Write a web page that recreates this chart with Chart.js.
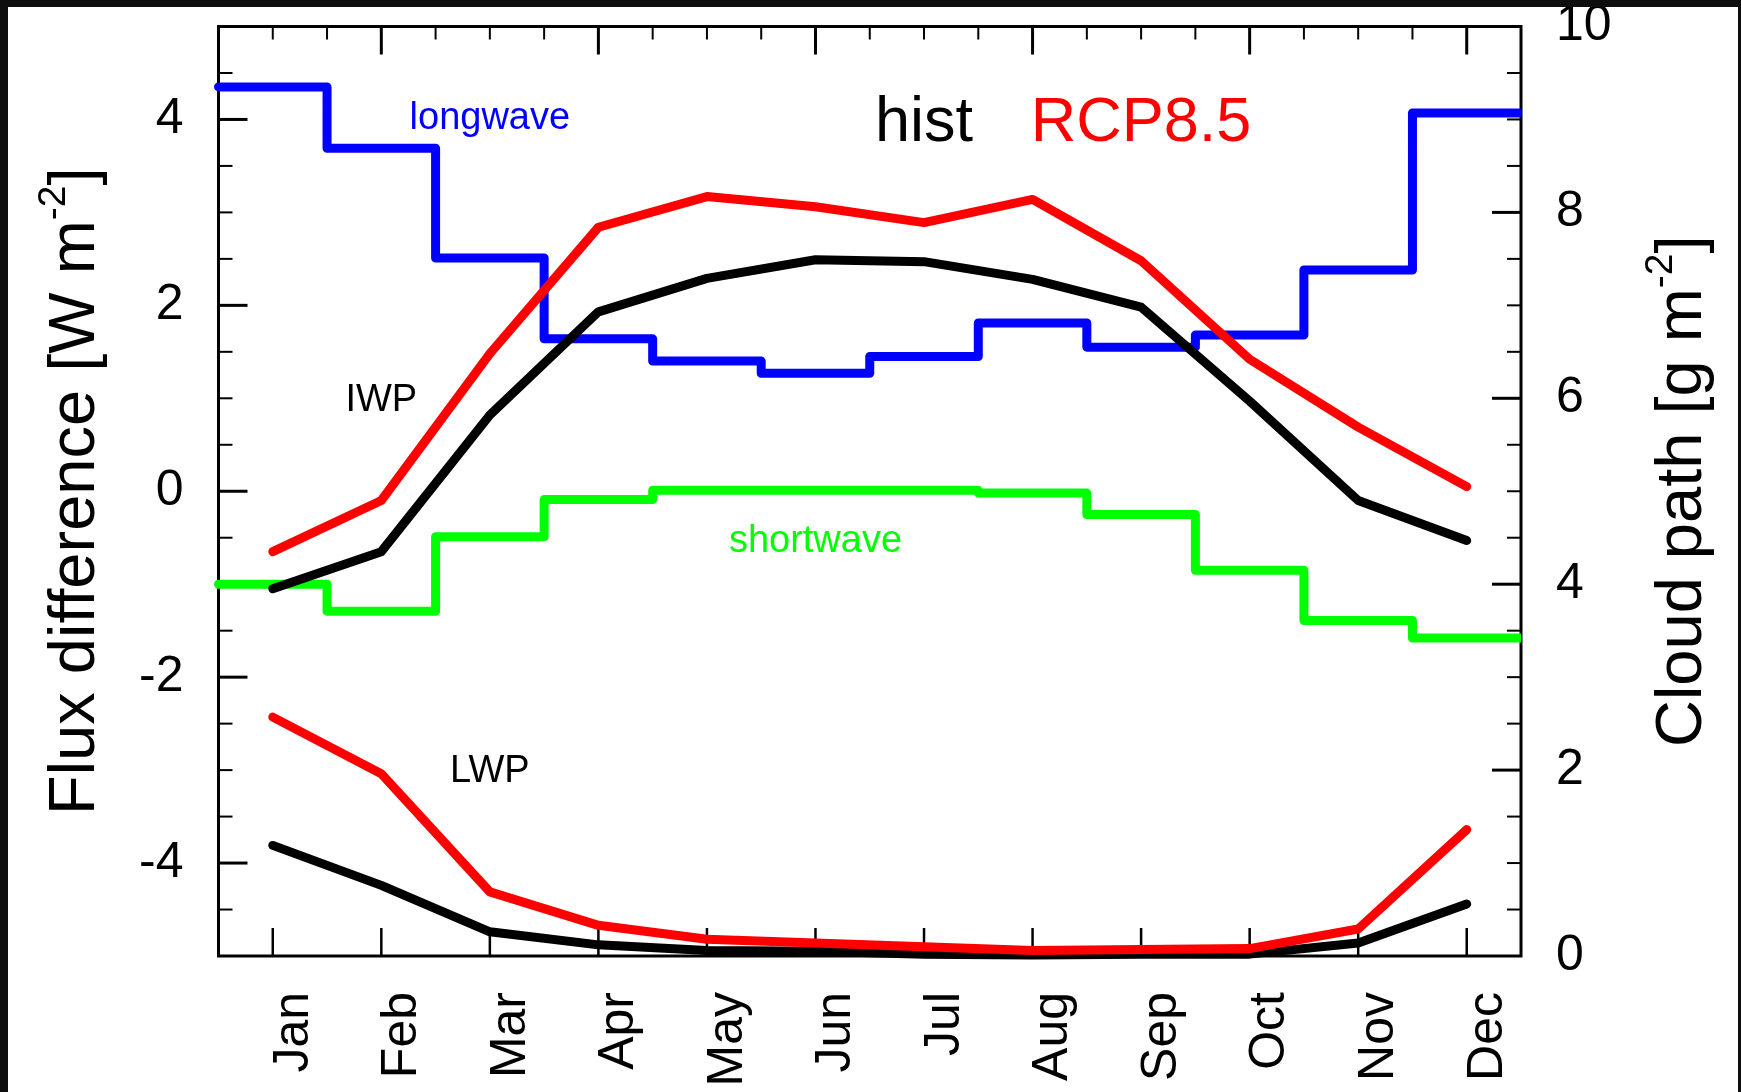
<!DOCTYPE html>
<html>
<head>
<meta charset="utf-8">
<title>Cloud path and flux difference</title>
<script src="https://cdn.jsdelivr.net/npm/chart.js@4.4.0/dist/chart.umd.min.js"></script>
<style>
    html, body { margin: 0; padding: 0; background: #0e0e0e; }
    #frame { position: absolute; left: 8px; top: 7px; width: 1730px; height: 1085px; background: #fff; }
    canvas { display: block; }
</style>
</head>
<body>
<div id="frame"><canvas id="cloudChart" width="1730" height="1085"></canvas></div>
<script>
// Monthly cycle of cloud ice/liquid water path and cloud flux difference
const months = ['Jan', 'Feb', 'Mar', 'Apr', 'May', 'Jun', 'Jul', 'Aug', 'Sep', 'Oct', 'Nov', 'Dec'];
const fluxTicks = [-4, -2, 0, 2, 4];
const pathTicks = [0, 2, 4, 6, 8, 10];

// Flux difference [W m-2], one step per month
const longwave = [4.35, 3.69, 2.51, 1.64, 1.40, 1.27, 1.45, 1.81, 1.55, 1.68, 2.38, 4.07];
const shortwave = [-1.00, -1.29, -0.49, -0.09, 0.01, 0.01, 0.01, -0.02, -0.25, -0.85, -1.39, -1.58];

// Cloud path [g m-2]
const iwpHist = [3.95, 4.35, 5.82, 6.93, 7.29, 7.49, 7.47, 7.28, 6.98, 5.97, 4.90, 4.47];
const iwpRcp = [4.35, 4.90, 6.48, 7.84, 8.17, 8.06, 7.89, 8.14, 7.48, 6.42, 5.69, 5.05];
const lwpHist = [1.19, 0.76, 0.26, 0.12, 0.06, 0.05, 0.02, 0.01, 0.02, 0.02, 0.14, 0.56];
const lwpRcp = [2.57, 1.96, 0.69, 0.33, 0.18, 0.14, 0.10, 0.06, 0.07, 0.08, 0.29, 1.36];

const FONT = '"Liberation Sans", Arial, Helvetica, sans-serif';

// monthly values -> points at month centres
function monthPoints(values) {
    return values.map((v, i) => ({ x: i + 1, y: v }));
}

// monthly values -> step edges, each month spans [m - 0.5, m + 0.5]
function stepPoints(values) {
    const pts = values.map((v, i) => ({ x: i + 0.5, y: v }));
    pts.push({ x: values.length + 0.5, y: values[values.length - 1] });
    return pts;
}

function line(data, color, axis, stepped) {
    return {
        data: data,
        yAxisID: axis,
        borderColor: color,
        borderWidth: 9,
        borderCapStyle: 'round',
        borderJoinStyle: 'round',
        pointRadius: 0,
        tension: 0,
        stepped: stepped || false,
        fill: false,
        // steps stop flush at the right frame, the cap shows on the left
        clip: stepped ? { left: false, top: false, right: 0, bottom: false } : false
    };
}

// Box frame and inward ticks on all four sides
const frameTicks = {
    id: 'frameTicks',
    beforeDatasetsDraw(chart) {
        const { ctx, chartArea: a, scales } = chart;
        const tick = (x1, y1, x2, y2, w) => {
            ctx.lineWidth = w;
            ctx.beginPath();
            ctx.moveTo(x1, y1);
            ctx.lineTo(x2, y2);
            ctx.stroke();
        };
        ctx.save();
        ctx.strokeStyle = '#000';
        ctx.lineCap = 'butt';

        const flux = scales.flux;
        for (let v = flux.min + 0.5; v < flux.max; v += 0.5) {
            const y = flux.getPixelForValue(v);
            const major = fluxTicks.includes(v);
            tick(a.left, y, a.left + (major ? 29 : 14), y, major ? 3 : 2);
        }
        const path = scales.path;
        for (let v = path.min + 0.5; v < path.max; v += 0.5) {
            const y = path.getPixelForValue(v);
            const major = pathTicks.includes(v);
            tick(a.right, y, a.right - (major ? 29 : 14), y, major ? 3 : 2);
        }
        const x = scales.x;
        months.forEach((m, i) => {
            const px = x.getPixelForValue(i + 1);
            tick(px, a.bottom, px, a.bottom - 28, 2.5);
        });
        for (let v = 1; v <= months.length; v += 0.5) {
            const px = x.getPixelForValue(v);
            const major = Number.isInteger(v) && v % 2 === 0;
            tick(px, a.top, px, a.top + (major ? 28 : 13), major ? 3 : 2);
        }

        ctx.lineWidth = 3;
        ctx.strokeRect(a.left, a.top, a.right - a.left, a.bottom - a.top);
        ctx.restore();
    }
};

// Rotated axis titles with a superscript exponent
function drawTitle(ctx, parts, bx, cy, size) {
    ctx.save();
    ctx.translate(bx, cy);
    ctx.rotate(-Math.PI / 2);
    ctx.fillStyle = '#000';
    ctx.textBaseline = 'alphabetic';
    ctx.textAlign = 'left';
    const widths = parts.map(p => {
        ctx.font = `${size * (p.scale || 1)}px ${FONT}`;
        return ctx.measureText(p.text).width;
    });
    let pos = -widths.reduce((s, w) => s + w, 0) / 2;
    parts.forEach((p, i) => {
        ctx.font = `${size * (p.scale || 1)}px ${FONT}`;
        ctx.fillText(p.text, pos, -(p.rise || 0) * size);
        pos += widths[i];
    });
    ctx.restore();
}

const notes = [
    { text: 'longwave', color: '#0000ff', size: 38, month: 3.0, flux: 3.9 },
    { text: 'IWP', color: '#000000', size: 38, month: 2.0, flux: 0.86 },
    { text: 'shortwave', color: '#00ff00', size: 38, month: 6.0, flux: -0.65 },
    { text: 'LWP', color: '#000000', size: 38, month: 3.0, flux: -3.13 },
    { text: 'hist', color: '#000000', size: 63, month: 7.0, flux: 3.77 },
    { text: 'RCP8.5', color: '#ff0000', size: 63, month: 9.0, flux: 3.77 }
];

const textLayer = {
    id: 'textLayer',
    afterDraw(chart) {
        const { ctx, chartArea: a, scales } = chart;
        ctx.save();
        ctx.textAlign = 'center';
        ctx.textBaseline = 'alphabetic';
        notes.forEach(n => {
            ctx.font = `${n.size}px ${FONT}`;
            ctx.fillStyle = n.color;
            ctx.fillText(n.text, scales.x.getPixelForValue(n.month), scales.flux.getPixelForValue(n.flux));
        });
        ctx.restore();

        const cy = (a.top + a.bottom) / 2;
        drawTitle(ctx, [
            { text: 'Flux difference [W m' },
            { text: '-2', scale: 0.6, rise: 0.45 },
            { text: ']' }
        ], 86, cy, 65);
        drawTitle(ctx, [
            { text: 'Cloud path [g m' },
            { text: '-2', scale: 0.6, rise: 0.45 },
            { text: ']' }
        ], 1693, cy, 65);
    }
};

const tickFont = { family: FONT, size: 50 };

new Chart(document.getElementById('cloudChart'), {
    type: 'line',
    data: {
        datasets: [
            line(monthPoints(iwpRcp), '#ff0000', 'path'),
            line(monthPoints(lwpRcp), '#ff0000', 'path'),
            line(monthPoints(iwpHist), '#000000', 'path'),
            line(monthPoints(lwpHist), '#000000', 'path'),
            line(stepPoints(longwave), '#0000ff', 'flux', 'before'),
            line(stepPoints(shortwave), '#00ff00', 'flux', 'before')
        ]
    },
    options: {
        responsive: false,
        animation: false,
        devicePixelRatio: 1,
        layout: { padding: { top: 19.5, left: 0, right: 0, bottom: 0 } },
        plugins: {
            legend: { display: false },
            tooltip: { enabled: false }
        },
        scales: {
            x: {
                type: 'linear',
                position: 'bottom',
                min: 0.5,
                max: 12.5,
                afterBuildTicks: s => { s.ticks = months.map((m, i) => ({ value: i + 1 })); },
                afterFit: s => { s.height = 136; s.paddingLeft = 0; s.paddingRight = 0; },
                grid: { display: false, drawTicks: false },
                border: { display: false },
                ticks: {
                    autoSkip: false,
                    minRotation: 90,
                    maxRotation: 90,
                    padding: 36,
                    labelOffset: 21,
                    color: '#000',
                    font: tickFont,
                    callback: (v, i) => months[i]
                }
            },
            flux: {
                type: 'linear',
                position: 'left',
                min: -5,
                max: 5,
                afterBuildTicks: s => { s.ticks = fluxTicks.map(v => ({ value: v })); },
                afterFit: s => { s.width = 210.5; s.paddingTop = 0; s.paddingBottom = 0; },
                grid: { display: false, drawTicks: false },
                border: { display: false },
                ticks: { padding: 35, color: '#000', font: tickFont }
            },
            path: {
                type: 'linear',
                position: 'right',
                min: 0,
                max: 10,
                afterBuildTicks: s => { s.ticks = pathTicks.map(v => ({ value: v })); },
                afterFit: s => { s.width = 217; s.paddingTop = 0; s.paddingBottom = 0; },
                grid: { display: false, drawTicks: false },
                border: { display: false },
                ticks: { padding: 35, color: '#000', font: tickFont }
            }
        }
    },
    plugins: [frameTicks, textLayer]
});
</script>
</body>
</html>
